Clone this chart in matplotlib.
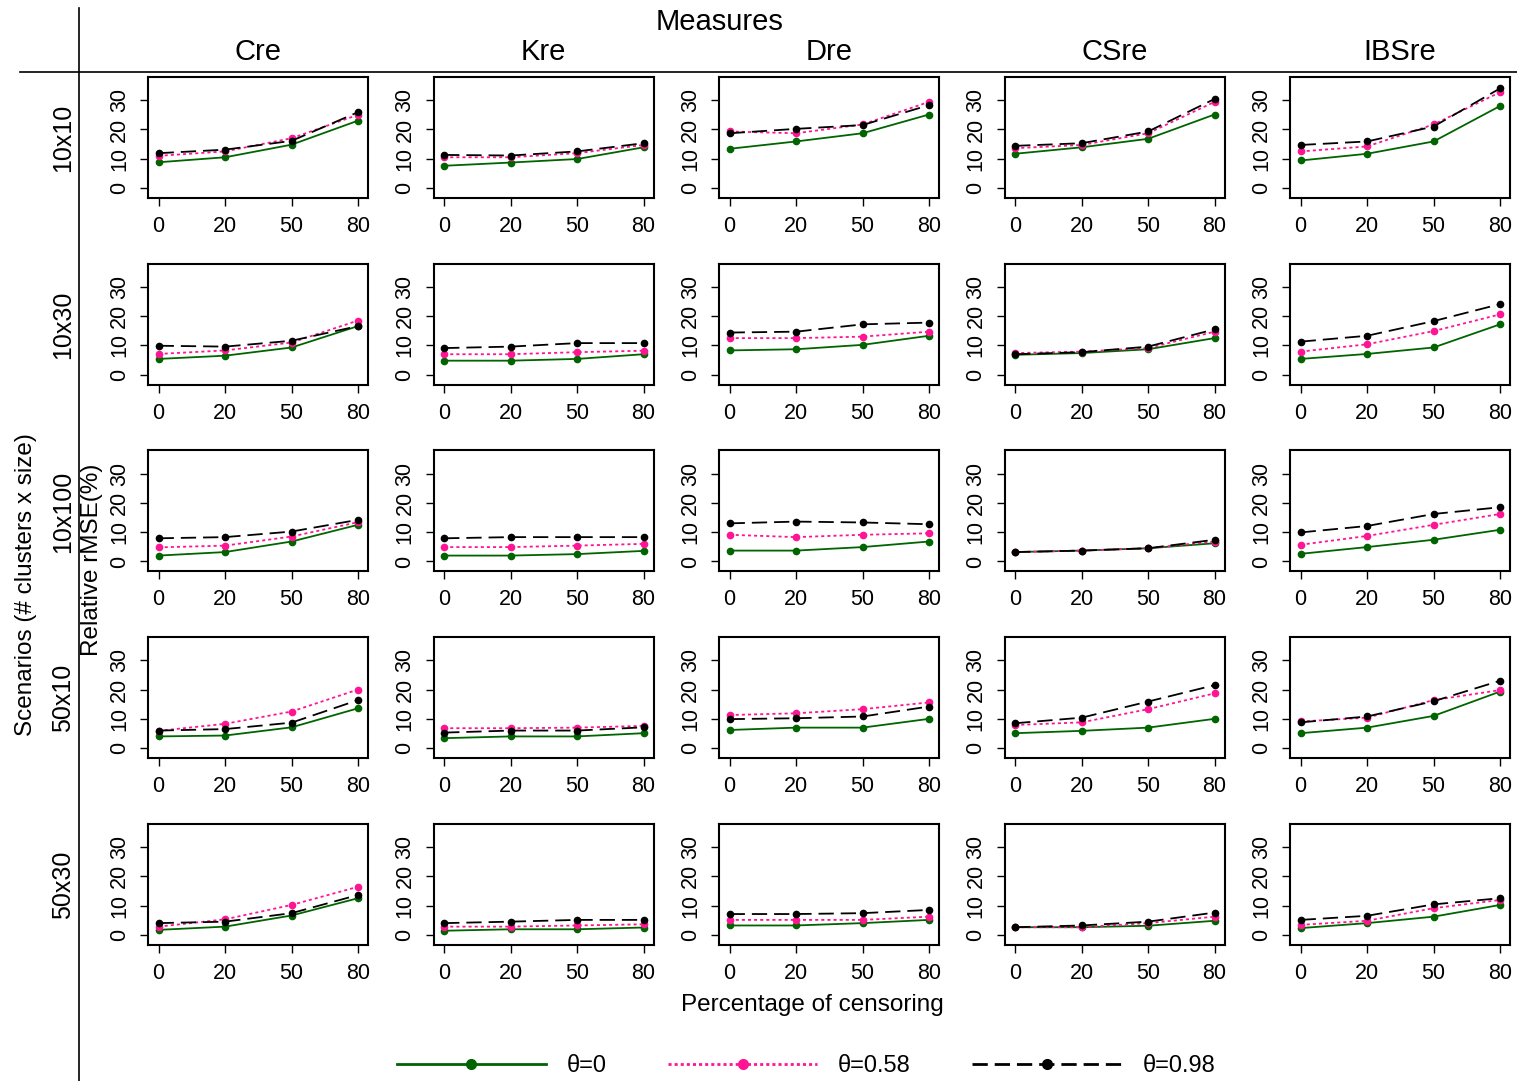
import matplotlib
matplotlib.use("Agg")
import matplotlib.pyplot as plt
from matplotlib.lines import Line2D

plt.rcParams['font.family'] = ['Liberation Sans', 'DejaVu Sans']
plt.rcParams['lines.scale_dashes'] = False

censoring = ['0', '20', '50', '80']
measures = ['Cre', 'Kre', 'Dre', 'CSre', 'IBSre']
scenarios = ['10x10', '10x30', '10x100', '50x10', '50x30']
thetas = ['\u03b8=0', '\u03b8=0.58', '\u03b8=0.98']

# relative rMSE(%), [scenario][measure][censoring]
rmse_theta0 = [
    [[8.8, 10.5, 14.8, 23.0], [7.6, 8.7, 9.9, 13.9], [13.4, 15.9, 18.7, 25.1], [11.7, 13.9, 16.8, 25.1], [9.4, 11.7, 15.9, 28.0]],
    [[5.4, 6.5, 9.3, 16.6], [4.8, 4.8, 5.4, 7.0], [8.3, 8.7, 10.2, 13.3], [6.8, 7.4, 8.7, 12.5], [5.4, 7.1, 9.3, 17.2]],
    [[2.0, 3.2, 6.8, 12.5], [2.0, 2.0, 2.5, 3.6], [3.7, 3.7, 4.9, 6.8], [3.2, 3.7, 4.5, 6.2], [2.6, 4.9, 7.4, 10.8]],
    [[4.0, 4.3, 7.1, 13.6], [3.4, 4.0, 4.0, 5.1], [6.2, 7.0, 7.0, 10.0], [5.1, 5.9, 7.0, 10.0], [5.1, 7.0, 11.0, 19.3]],
    [[1.7, 2.8, 6.6, 12.5], [1.4, 1.9, 1.9, 2.5], [3.2, 3.2, 4.0, 5.1], [2.6, 2.6, 3.1, 4.8], [2.3, 4.0, 6.2, 10.2]],
]
rmse_theta058 = [
    [[11.0, 12.5, 17.0, 25.0], [10.5, 10.5, 11.9, 14.7], [19.3, 18.7, 21.7, 29.4], [13.6, 14.7, 18.7, 29.4], [12.5, 14.2, 21.7, 32.7]],
    [[7.1, 8.3, 11.0, 18.5], [7.0, 7.0, 7.7, 8.2], [12.5, 12.5, 13.0, 14.7], [7.4, 7.9, 9.1, 14.7], [7.9, 10.4, 14.9, 20.6]],
    [[4.8, 5.4, 8.5, 13.4], [4.9, 4.9, 5.4, 6.0], [9.1, 8.3, 9.1, 9.6], [3.2, 3.7, 4.5, 6.8], [5.7, 8.7, 12.5, 16.2]],
    [[5.9, 8.3, 12.5, 20.0], [6.8, 6.8, 7.0, 7.6], [11.3, 11.9, 13.3, 15.6], [7.9, 8.8, 13.3, 18.7], [9.1, 10.4, 16.4, 19.8]],
    [[2.8, 5.3, 10.2, 16.4], [2.8, 2.8, 3.2, 3.6], [5.1, 5.1, 5.1, 6.2], [2.6, 2.6, 4.0, 6.2], [3.4, 4.8, 9.1, 11.9]],
]
rmse_theta098 = [
    [[11.9, 13.1, 16.1, 25.9], [11.3, 11.1, 12.5, 15.3], [18.7, 20.2, 21.5, 28.3], [14.4, 15.3, 19.3, 30.4], [14.7, 15.9, 21.0, 34.0]],
    [[9.9, 9.6, 11.6, 16.6], [9.1, 9.6, 10.8, 10.8], [14.4, 14.7, 17.2, 17.8], [7.0, 7.7, 9.6, 15.5], [11.3, 13.3, 18.3, 24.1]],
    [[7.9, 8.3, 10.2, 14.2], [7.9, 8.3, 8.3, 8.3], [13.0, 13.6, 13.3, 12.7], [3.2, 3.7, 4.5, 7.4], [9.9, 12.1, 16.2, 18.5]],
    [[6.0, 6.5, 8.7, 16.4], [5.3, 6.0, 6.0, 7.1], [9.9, 10.2, 10.8, 14.2], [8.5, 10.4, 15.9, 21.5], [8.8, 10.8, 16.0, 23.0]],
    [[4.0, 4.5, 7.4, 13.6], [4.0, 4.5, 5.1, 5.1], [7.1, 7.1, 7.4, 8.5], [2.6, 3.2, 4.5, 7.6], [5.1, 6.5, 10.4, 12.5]],
]

series = [rmse_theta0, rmse_theta058, rmse_theta098]
colors = ['#006400', '#ff1493', 'black']
dashes = [None, (2.2, 2.2), (11, 5)]

W, H = 1517, 1081
fig = plt.figure(figsize=(W / 100, H / 100), dpi=100)

def fx(px):
    return px / W

def fy(py):
    return 1 - py / H

pos = [1, 2, 3, 4]
for i, scen in enumerate(scenarios):
    for j, meas in enumerate(measures):
        left = 148 + j * 285.5
        top = 77 + i * 186.7
        ax = fig.add_axes([fx(left), fy(top + 121), 220 / W, 121 / H])
        for k in range(3):
            ln, = ax.plot(pos, series[k][i][j], color=colors[k], lw=1.3,
                          marker='o', ms=4.5)
            if dashes[k] is not None:
                ln.set_dashes(dashes[k])
        ax.set_xlim(0.84, 4.15)
        ax.set_ylim(-3.4, 37.9)
        ax.set_xticks(pos)
        ax.set_xticklabels(censoring, fontsize=15.5)
        ax.set_yticks([0, 10, 20, 30])
        ax.set_yticklabels(['0', '10', '20', '30'], fontsize=15.5,
                           rotation=90, va='center')
        ax.tick_params(length=6, width=1, pad=7)
        for s in ax.spines.values():
            s.set_linewidth(1.5)

# frame lines
fig.add_artist(Line2D([fx(79), fx(79)], [fy(8), 0], color='black', lw=1.2))
fig.add_artist(Line2D([fx(20), 1], [fy(72), fy(72)], color='black', lw=1.2))

fig.text(fx(720), fy(22), 'Measures', fontsize=21, ha='center', va='center')
for j, meas in enumerate(measures):
    fig.text(fx(258 + j * 285.5), fy(52), meas, fontsize=21, ha='center', va='center')
for i, scen in enumerate(scenarios):
    fig.text(fx(63), fy(138 + i * 186.7), scen, fontsize=18, rotation=90,
             ha='center', va='center')

fig.text(fx(26), fy(585), 'Scenarios (# clusters x size)', fontsize=17.5,
         rotation=90, ha='center', va='center')
fig.text(fx(92), fy(560), 'Relative rMSE(%)', fontsize=17.5,
         rotation=90, ha='center', va='center')
fig.text(fx(812), fy(1005), 'Percentage of censoring', fontsize=17.5,
         ha='center', va='center')

handles = []
for k in range(3):
    h = Line2D([0], [0], color=colors[k], lw=2, marker='o', ms=7)
    if dashes[k] is not None:
        h.set_dashes(dashes[k])
    handles.append(h)
fig.legend(handles, thetas, loc='center', bbox_to_anchor=(fx(806), fy(1066)),
           ncol=3, frameon=False, fontsize=17, handlelength=6.3,
           handletextpad=0.9, columnspacing=2.6, numpoints=1)

fig.savefig('out.png', dpi=100)
